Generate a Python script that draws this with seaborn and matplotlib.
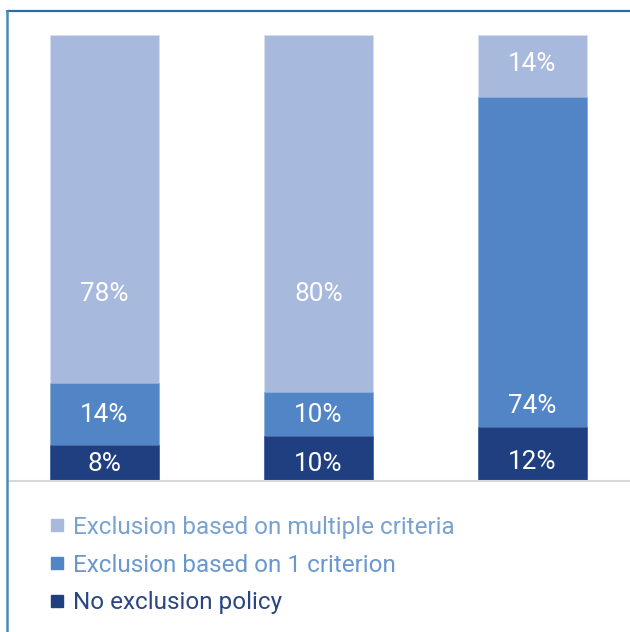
import matplotlib
matplotlib.use("Agg")
import matplotlib.pyplot as plt
from matplotlib.lines import Line2D
import seaborn as sns
import pandas as pd
import numpy as np

# ---- data ----
groups = ["A", "B", "C"]
no_policy = [8, 10, 12]
one_criterion = [14, 10, 74]
multiple_criteria = [78, 80, 14]
series_names = ["Exclusion based on multiple criteria",
                "Exclusion based on 1 criterion",
                "No exclusion policy"]
# label anchor heights (data units), as placed in the reference
label_y_no = [4.4, 4.4, 4.8]
label_y_one = [15.4, 15.4, 17.3]
label_y_multi = [42.4, 42.4, 94.0]

colors = {"multi": "#A8B9DE", "one": "#5285C5", "no": "#203F80"}
text_colors = ["#78A2D2", "#6A98CE", "#2A4682"]

sns.set_theme(style="white")
plt.rcParams['font.family'] = ['Roboto', 'DejaVu Sans']

fig = plt.figure(figsize=(6.3, 6.32), dpi=100)
W, H = 630, 632
ax = fig.add_axes([8 / W, 1 - 481 / H, 1 - 8 / W, (481 - 11) / H])

df = pd.DataFrame({
    "group": groups,
    "total": np.array(no_policy) + np.array(one_criterion) + np.array(multiple_criteria),
    "lower2": np.array(no_policy) + np.array(one_criterion),
    "lower1": np.array(no_policy),
})

bw = 0.51
sns.barplot(data=df, x="group", y="total", color=colors["multi"], width=bw,
            saturation=1, edgecolor="#D8E0F0", linewidth=0.6, ax=ax)
sns.barplot(data=df, x="group", y="lower2", color=colors["one"], width=bw,
            saturation=1, edgecolor="#8FB0DA", linewidth=0.6, ax=ax)
sns.barplot(data=df, x="group", y="lower1", color=colors["no"], width=bw,
            saturation=1, edgecolor="#4A6AA8", linewidth=0.6, ax=ax)

ax.set_xlim(-0.451, 2.456)
ax.set_ylim(0, 105.38)
ax.set_xlabel("")
ax.set_ylabel("")
ax.set_xticks([])
ax.set_yticks([])
for s in ["top", "left", "right"]:
    ax.spines[s].set_visible(False)
ax.spines["bottom"].set_color("#D9D9D9")
ax.spines["bottom"].set_linewidth(1.5)

fs = 18.8
for i in range(len(groups)):
    for val, yy in ((no_policy[i], label_y_no[i]),
                    (one_criterion[i], label_y_one[i]),
                    (multiple_criteria[i], label_y_multi[i])):
        ax.text(i, yy, f"{val}%", ha="center", va="center_baseline",
                color="white", fontsize=fs, fontweight="normal")

# frame lines (top and left)
fig.add_artist(Line2D([7 / W, 1], [1 - 11 / H, 1 - 11 / H], color="#2E6E9E",
                      linewidth=1.6, transform=fig.transFigure))
fig.add_artist(Line2D([7 / W, 7 / W], [0, 1 - 11 / H], color="#4A8AB5",
                      linewidth=1.8, transform=fig.transFigure))

# legend
handles = [Line2D([], [], marker="s", linestyle="none", markersize=9,
                  markerfacecolor=c, markeredgecolor=c)
           for c in (colors["multi"], colors["one"], colors["no"])]
leg = fig.legend(handles, series_names, loc="upper left",
                 bbox_to_anchor=(47 / W, 1 - 516 / H), frameon=False,
                 handlelength=0.8, handletextpad=0.28,
                 labelspacing=0.6, borderaxespad=0, borderpad=0,
                 labelcolor=text_colors, prop={"weight": "normal", "size": 17.5})

fig.savefig("out.png", dpi=100)
